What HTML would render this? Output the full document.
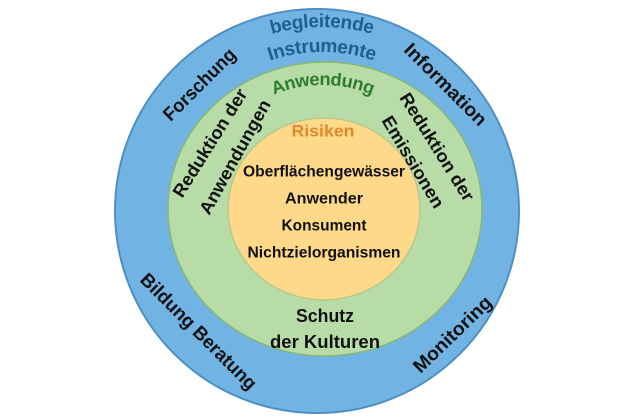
<!DOCTYPE html>
<html><head><meta charset="utf-8"><style>
html,body{margin:0;padding:0;background:#fff;width:620px;height:420px;overflow:hidden}
svg{display:block}
text{font-family:"Liberation Sans",sans-serif;font-weight:bold;dominant-baseline:central}
</style></head><body>
<svg width="620" height="420" viewBox="0 0 620 420">
<defs>
<path id="a1" d="M 129 214 A 193 193 0 0 1 515 214"/>
<path id="a2" d="M 154 214 A 168 168 0 0 1 490 214"/>
<path id="a3" d="M 188 214 A 135 135 0 0 1 458 214"/>
</defs>
<circle cx="317" cy="211" r="202" fill="#71b4e4" stroke="#4f8fc2" stroke-width="2"/>
<ellipse cx="325" cy="209" rx="157" ry="147" fill="#b8dca8" stroke="#86b872" stroke-width="1.5"/>
<ellipse cx="324" cy="209" rx="96" ry="91" fill="#ffd98a" stroke="#b9c98a" stroke-width="1.5"/>

<text font-size="19" fill="#1f5f8f" text-anchor="middle"><textPath href="#a1" startOffset="50%" textLength="105" lengthAdjust="spacingAndGlyphs">begleitende</textPath></text>
<text font-size="19" fill="#1f5f8f" text-anchor="middle"><textPath href="#a2" startOffset="50%" textLength="110" lengthAdjust="spacingAndGlyphs">Instrumente</textPath></text>
<text font-size="18" fill="#2e7d2e" text-anchor="middle"><textPath href="#a3" startOffset="50%" textLength="105" lengthAdjust="spacingAndGlyphs">Anwendung</textPath></text>

<g font-size="19" fill="#111" text-anchor="middle">
<text transform="translate(200,85) rotate(-45)" textLength="94" lengthAdjust="spacingAndGlyphs">Forschung</text>
<text transform="translate(445,85) rotate(45)" textLength="108" lengthAdjust="spacingAndGlyphs">Information</text>
<text transform="translate(198,332) rotate(45)" textLength="156" lengthAdjust="spacingAndGlyphs">Bildung Beratung</text>
<text transform="translate(453,335) rotate(-44)" textLength="101" lengthAdjust="spacingAndGlyphs">Monitoring</text>
</g>
<g font-size="18" fill="#111" text-anchor="middle">
<text transform="translate(210,143) rotate(-58)" textLength="124" lengthAdjust="spacingAndGlyphs">Reduktion der</text>
<text transform="translate(235,157) rotate(-61)" textLength="128" lengthAdjust="spacingAndGlyphs">Anwendungen</text>
<text transform="translate(437,147) rotate(58)" textLength="124" lengthAdjust="spacingAndGlyphs">Reduktion der</text>
<text transform="translate(413,162) rotate(59)" textLength="104" lengthAdjust="spacingAndGlyphs">Emissionen</text>
<text x="325" y="316" textLength="58" lengthAdjust="spacingAndGlyphs">Schutz</text>
<text x="325" y="342" textLength="110" lengthAdjust="spacingAndGlyphs">der Kulturen</text>
</g>
<text x="323" y="131" font-size="17" fill="#e0892c" text-anchor="middle" textLength="63" lengthAdjust="spacingAndGlyphs">Risiken</text>
<g font-size="16" fill="#111" text-anchor="middle">
<text x="324" y="172" textLength="162" lengthAdjust="spacingAndGlyphs">Oberflächengewässer</text>
<text x="324" y="199" textLength="78" lengthAdjust="spacingAndGlyphs">Anwender</text>
<text x="324" y="226" textLength="85" lengthAdjust="spacingAndGlyphs">Konsument</text>
<text x="324" y="253" textLength="153" lengthAdjust="spacingAndGlyphs">Nichtzielorganismen</text>
</g>
</svg>
</body></html>
